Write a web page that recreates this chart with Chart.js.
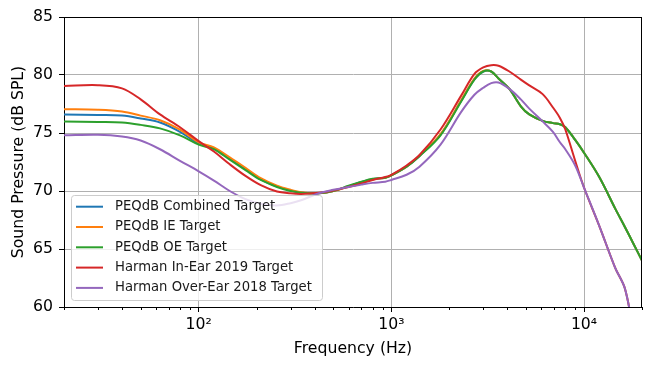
<!DOCTYPE html>
<html>
<head>
<meta charset="utf-8">
<script src="https://cdn.jsdelivr.net/npm/chart.js@4.4.0/dist/chart.umd.min.js"></script>
<style>
  html, body { margin: 0; padding: 0; background: #fff; }
</style>
</head>
<body>
<canvas id="frChart" width="654" height="368"></canvas>
<script>
// frequency points (Hz), shared by every curve
const freqs = [20, 30, 40, 50, 63, 80, 100, 120, 145, 175, 210, 255, 300, 340,
  420, 500, 600, 700, 800, 930, 1000, 1200, 1400, 1800, 2300, 2700, 3000, 3300,
  3600, 4100, 4700, 5200, 6100, 6900, 7500, 8000, 9000, 10000, 12000, 14500, 16300, 18000, 20000];

const combined = [76.6, 76.55, 76.5, 76.25, 75.9, 75.1, 74.1,
  73.7, 72.8, 71.9, 71.0, 70.4, 70.05, 69.88,
  69.8, 70.0, 70.42, 70.78, 71.02, 71.15, 71.35,
  72.1, 73.02, 74.85, 77.75, 79.65, 80.3, 80.3,
  79.7, 78.8, 77.3, 76.6, 76.05, 75.85, 75.75,
  75.5, 74.4, 73.3, 71.2, 68.5, 66.9, 65.5, 64.0];
const ieTarget = [77.05, 77.0, 76.85, 76.5, 76.1, 75.3, 74.2,
  73.75, 72.9, 72.0, 71.1, 70.45, 70.1, 69.9,
  69.8, 70.0, 70.4, 70.75, 71.0, 71.15, 71.35,
  72.1, 73.05, 74.9, 77.8, 79.7, 80.35, 80.3,
  79.7, 78.8, 77.3, 76.6, 76.05, 75.85, 75.75,
  75.5, 74.4, 73.3, 71.2, 68.5, 66.9, 65.5, 64.0];
const oeTarget = [76.0, 75.95, 75.9, 75.7, 75.4, 74.8, 74.0,
  73.6, 72.7, 71.8, 70.95, 70.35, 70.0, 69.85,
  69.8, 70.0, 70.45, 70.8, 71.05, 71.15, 71.35,
  72.1, 73.0, 74.8, 77.7, 79.6, 80.3, 80.3,
  79.7, 78.8, 77.3, 76.6, 76.05, 75.85, 75.75,
  75.5, 74.4, 73.3, 71.2, 68.5, 66.9, 65.5, 64.0];
const harmanIE2019 = [79.05, 79.12, 78.85, 77.9, 76.6, 75.5, 74.3,
  73.4, 72.3, 71.3, 70.5, 69.95, 69.8, 69.75,
  69.85, 70.05, 70.35, 70.65, 70.95, 71.2, 71.4,
  72.2, 73.1, 75.3, 78.2, 80.1, 80.65, 80.85,
  80.8, 80.3, 79.6, 79.1, 78.35, 77.2, 76.3,
  75.3, 72.6, 70.3, 67.0, 63.4, 61.6, 58.0, 54.0];
const harmanOE2018 = [74.8, 74.85, 74.7, 74.35, 73.6, 72.6, 71.7,
  70.9, 70.0, 69.3, 68.9, 68.75, 68.95, 69.2,
  69.8, 70.1, 70.35, 70.55, 70.7, 70.8, 70.95,
  71.4, 72.1, 74.0, 76.8, 78.3, 78.9, 79.3,
  79.35, 78.8, 77.9, 77.1, 76.0, 75.1, 74.2,
  73.6, 72.2, 70.3, 67.0, 63.4, 61.6, 58.0, 54.0];

const names = ['PEQdB Combined Target', 'PEQdB IE Target', 'PEQdB OE Target',
  'Harman In-Ear 2019 Target', 'Harman Over-Ear 2018 Target'];
const series = [combined, ieTarget, oeTarget, harmanIE2019, harmanOE2018];
const colors = ['#1f77b4', '#ff7f0e', '#2ca02c', '#d62728', '#9467bd'];

const xTicks = [20, 30, 40, 50, 60, 70, 80, 90, 100, 200, 300, 400, 500, 600, 700, 800, 900,
  1000, 2000, 3000, 4000, 5000, 6000, 7000, 8000, 9000, 10000, 20000];
const decadeLabels = { 100: '10²', 1000: '10³', 10000: '10⁴' };
const yTicks = [60, 65, 70, 75, 80, 85];

const FONT = '"DejaVu Sans", sans-serif';
const isDecade = v => decadeLabels[v] !== undefined;

// top/right spines, short minor ticks, legend inside the axes
const framePlugin = {
  id: 'frame',
  afterDraw(chart) {
    const { ctx, chartArea: a, scales } = chart;
    ctx.save();
    ctx.strokeStyle = '#000';
    ctx.lineWidth = 1;
    ctx.beginPath();
    ctx.moveTo(a.left, a.top + 0.5); ctx.lineTo(a.right, a.top + 0.5);
    ctx.moveTo(a.right - 0.5, a.top); ctx.lineTo(a.right - 0.5, a.bottom);
    ctx.stroke();

    ctx.beginPath();
    xTicks.filter(v => !isDecade(v)).forEach(v => {
      const px = Math.round(scales.x.getPixelForValue(v)) + 0.5;
      ctx.moveTo(px, a.bottom); ctx.lineTo(px, a.bottom + 3);
    });
    ctx.stroke();

    // legend
    const lx = a.left + 7, lw = 251, rowH = 20.3, lh = 105;
    const ly = a.bottom - 7 - lh;
    ctx.beginPath();
    ctx.roundRect(lx + 0.5, ly + 0.5, lw, lh, 3);
    ctx.fillStyle = 'rgba(255,255,255,0.8)';
    ctx.fill();
    ctx.strokeStyle = '#cccccc';
    ctx.stroke();
    ctx.font = '13.2px ' + FONT;
    ctx.textBaseline = 'middle';
    names.forEach((n, i) => {
      const cy = ly + 11.7 + i * rowH;
      ctx.strokeStyle = colors[i];
      ctx.lineWidth = 2;
      ctx.beginPath();
      ctx.moveTo(lx + 5, cy); ctx.lineTo(lx + 32, cy);
      ctx.stroke();
      ctx.fillStyle = '#1a1a1a';
      ctx.fillText(n, lx + 44, cy);
    });
    ctx.restore();
  }
};

new Chart(document.getElementById('frChart'), {
  type: 'line',
  data: {
    datasets: names.map((n, i) => ({
      label: n,
      data: freqs.map((f, j) => ({ x: f, y: series[i][j] })),
      borderColor: colors[i],
      backgroundColor: colors[i],
      borderWidth: 2,
      pointRadius: 0,
      fill: false,
      tension: 0.35,
      order: names.length - 1 - i // later series drawn on top, like matplotlib
    }))
  },
  options: {
    responsive: false,
    animation: false,
    layout: { padding: { top: 17, right: 12, left: 0, bottom: 0 } },
    plugins: { legend: { display: false }, tooltip: { enabled: false } },
    scales: {
      x: {
        type: 'logarithmic',
        min: 20,
        max: 20000,
        afterBuildTicks: s => { s.ticks = xTicks.map(v => ({ value: v })); },
        afterFit: s => { s.height = 61; },
        ticks: {
          autoSkip: false, maxRotation: 0, padding: 4, color: '#000',
          font: { family: FONT, size: 15.7 },
          callback: v => decadeLabels[v] || ''
        },
        grid: {
          color: c => (c.tick && isDecade(c.tick.value)) ? '#b0b0b0' : 'rgba(0,0,0,0)',
          tickColor: c => (c.tick && isDecade(c.tick.value)) ? '#000' : 'rgba(0,0,0,0)',
          tickLength: 5,
          lineWidth: 1
        },
        border: { color: '#000', width: 1 },
        title: {
          display: true, text: 'Frequency (Hz)', color: '#000',
          font: { family: FONT, size: 15.7 }, padding: { top: 0, bottom: 10 }
        }
      },
      y: {
        min: 60,
        max: 85,
        afterBuildTicks: s => { s.ticks = yTicks.map(v => ({ value: v })); },
        afterFit: s => { s.width = 64; },
        ticks: { padding: 6, color: '#000', font: { family: FONT, size: 15.7 } },
        grid: { color: '#b0b0b0', tickColor: '#000', tickLength: 5, lineWidth: 1 },
        border: { color: '#000', width: 1 },
        title: {
          display: true, text: 'Sound Pressure (dB SPL)', color: '#000',
          font: { family: FONT, size: 15.7 }, padding: { top: 10, bottom: 0 }
        }
      }
    }
  },
  plugins: [framePlugin]
});
</script>
</body>
</html>
